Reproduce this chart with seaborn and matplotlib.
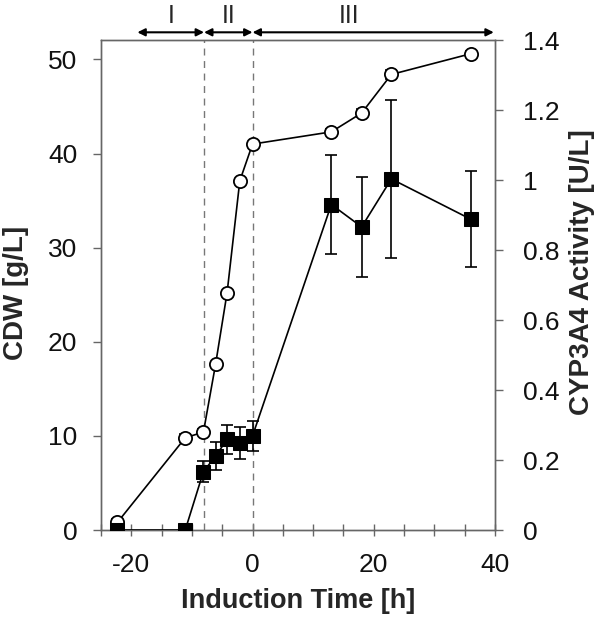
import matplotlib
matplotlib.use("Agg")
import matplotlib.pyplot as plt
import seaborn as sns
import numpy as np
import pandas as pd
from matplotlib.ticker import MultipleLocator

sns.set_theme(style="white")
plt.rcParams['font.family'] = ['Liberation Sans', 'DejaVu Sans']

# CDW data (open circles, left axis)
cdw_time = [-22.3, -11.1, -8.1, -6.1, -4.2, -2.1, 0.0, 13.0, 18.0, 22.9, 36.0]
cdw_vals = [0.8, 9.8, 10.4, 17.6, 25.2, 37.1, 41.0, 42.3, 44.3, 48.4, 50.6]
cdw_err = [0.4, 0.4, 0.3, 0.2, 0.2, 0.2, 0.2, 0.3, 0.4, 0.5, 0.3]

# CYP3A4 activity (filled squares, right axis)
act_time = [-22.3, -11.1, -8.1, -6.1, -4.2, -2.1, 0.0, 13.0, 18.0, 22.9, 36.0]
act_vals = [0.0, 0.0, 0.167, 0.211, 0.259, 0.248, 0.269, 0.930, 0.866, 1.003, 0.888]
act_err = [0.0, 0.0, 0.03, 0.04, 0.042, 0.045, 0.042, 0.142, 0.142, 0.225, 0.137]

x_major = [-20, 0, 20, 40]
left_ticks = [0, 10, 20, 30, 40, 50]
right_ticks = [0, 0.2, 0.4, 0.6, 0.8, 1.0, 1.2, 1.4]
right_labels = ["0", "0.2", "0.4", "0.6", "0.8", "1", "1.2", "1.4"]

phase_bounds = [(-19, -8), (-8, 0), (0, 39.8)]
phase_labels = ["I", "II", "III"]
phase_label_x = [-13.5, -4.0, 16.0]

df_cdw = pd.DataFrame({"t": cdw_time, "v": cdw_vals})
df_act = pd.DataFrame({"t": act_time, "v": act_vals})

fig = plt.figure(figsize=(6.0, 6.18), dpi=100)
ax = fig.add_axes([101/600, 1-530/618, (495-101)/600, (530-40)/618])
ax2 = ax.twinx()

spine_col = '#666666'
for a in (ax, ax2):
    for s in a.spines.values():
        s.set_color(spine_col)
        s.set_linewidth(1.0)

# dashed phase lines
for xv in [-8, 0]:
    ax.axvline(xv, color='#777777', ls=(0, (5, 4)), lw=1.0, zorder=1)

# CDW
ax.errorbar(cdw_time, cdw_vals, yerr=cdw_err, fmt='none', ecolor='black',
            elinewidth=1.1, capsize=4, capthick=1.1, zorder=2)
sns.lineplot(data=df_cdw, x="t", y="v", ax=ax, color='black', lw=1.2,
             marker='o', markersize=9.5, markerfacecolor='white',
             markeredgecolor='black', markeredgewidth=1.3, zorder=3)

# Activity
ax2.errorbar(act_time, act_vals, yerr=act_err, fmt='none', ecolor='black',
             elinewidth=1.2, capsize=4.5, capthick=1.2, zorder=2)
sns.lineplot(data=df_act, x="t", y="v", ax=ax2, color='black', lw=1.2,
             marker='s', markersize=10.5, markerfacecolor='black',
             markeredgecolor='black', zorder=3)

ax.set_xlim(-25, 40)
ax.set_ylim(0, 52.06)
ax2.set_ylim(0, 1.4)

ax.set_xticks(x_major)
ax.set_xticklabels([str(v) for v in x_major])
ax.xaxis.set_minor_locator(MultipleLocator(5))
ax.set_yticks(left_ticks)
ax.set_yticklabels([str(v) for v in left_ticks])
ax2.set_yticks(right_ticks)
ax2.set_yticklabels(right_labels)

tick_fs = 19
ax.tick_params(axis='x', which='both', direction='inout', length=9, width=1,
               color=spine_col, labelsize=tick_fs, pad=12, bottom=True,
               labelcolor='#111111')
ax.tick_params(axis='y', which='both', direction='out', length=6, width=1,
               color=spine_col, labelsize=tick_fs, left=True, pad=11,
               labelcolor='#111111')
ax2.tick_params(axis='y', direction='out', length=6, width=1,
                color=spine_col, labelsize=tick_fs, right=True, pad=14,
                labelcolor='#111111')

ax.set_xlabel("Induction Time [h]", fontsize=19.5, fontweight='bold', va='center')
ax.xaxis.set_label_coords(0.5, (530-601)/490)
ax.set_ylabel("CDW [g/L]", fontsize=20, fontweight='bold', va='center')
ax.yaxis.set_label_coords((16-101)/394, (530-293)/490)
ax2.set_ylabel("CYP3A4 Activity [U/L]", fontsize=20, fontweight='bold',
               va='center', rotation=90)
ax2.yaxis.set_label_coords((582-101)/394, (530-272)/490)
ax.grid(False)
ax2.grid(False)

# phase arrows and labels
trans = ax.get_xaxis_transform()
for (x0, x1) in phase_bounds:
    ax.annotate("", xy=(x0, 1.0157), xytext=(x1, 1.0157), xycoords=trans,
                textcoords=trans,
                arrowprops=dict(arrowstyle='<|-|>', color='black', lw=1.5,
                                shrinkA=0, shrinkB=0, mutation_scale=11),
                annotation_clip=False)
for lbl, xl in zip(phase_labels, phase_label_x):
    ax.text(xl, 1.049, lbl, transform=trans, ha='center', va='center',
            fontsize=18, clip_on=False)

fig.savefig("out.png", dpi=100)
